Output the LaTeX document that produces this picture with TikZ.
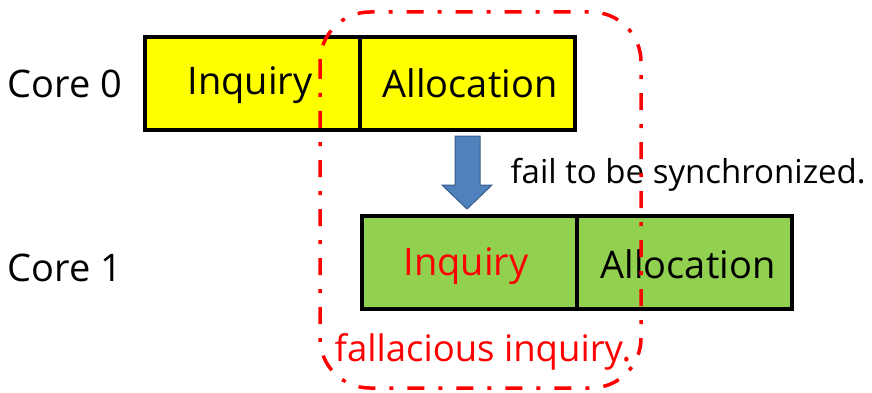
\documentclass[tikz,border=0pt]{standalone}
\usepackage{fontspec}
\setmainfont{Open Sans}
\definecolor{ylw}{HTML}{FFFF00}
\definecolor{grn}{HTML}{92D050}
\definecolor{arrfill}{HTML}{4F81BD}
\definecolor{arrline}{HTML}{385D8A}
\tikzset{
  seg/.style={draw=black, line width=3.5pt, minimum height=93pt, inner sep=0pt},
  big/.style={font=\fontsize{38}{40}\selectfont},
  mid/.style={font=\fontsize{33}{35}\selectfont},
}
\begin{document}
\begin{tikzpicture}[x=1pt,y=-1pt]
\useasboundingbox (0,0) rectangle (872,393);
% Core 0
\node[seg, fill=ylw, minimum width=215pt] (i0) at (252.5,83.5) {};
\node[seg, fill=ylw, minimum width=215pt] (a0) at (467.5,83.5) {};
\node[big, anchor=base] (ti0) at (250,95) {Inquiry};
\node[big, anchor=base] (ta0) at (470,98) {Allocation};
\node[big, anchor=base] (c0) at (65,98) {Core 0};
% Core 1
\node[seg, fill=grn, minimum width=215pt] (i1) at (469.5,262.5) {};
\node[seg, fill=grn, minimum width=215pt] (a1) at (684.5,262.5) {};
\node[big, anchor=base, text=red] (ti1) at (466,275) {Inquiry};
\node[big, anchor=base] (ta1) at (688,278) {Allocation};
\node[big, anchor=base] (c1) at (65,281) {Core 1};
% arrow
\draw[draw=arrline, fill=arrfill, line width=1pt, line join=miter]
  (455,136) -- (480,136) -- (480,185) -- (492,185) -- (467,209)
  -- (442,185) -- (455,185) -- cycle;
\node[mid, anchor=base west] (fail) at (507,183) {fail to be synchronized.};
% red region
\draw[red, line width=3.5pt, rounded corners=50pt, dash pattern=on 17pt off 14pt on 4pt off 14pt]
  (320,12) rectangle (641,388);
\node[font=\fontsize{36.5}{38}\selectfont, anchor=base, text=red] (fal) at (483,361) {fallacious inquiry.};
\end{tikzpicture}
\end{document}
